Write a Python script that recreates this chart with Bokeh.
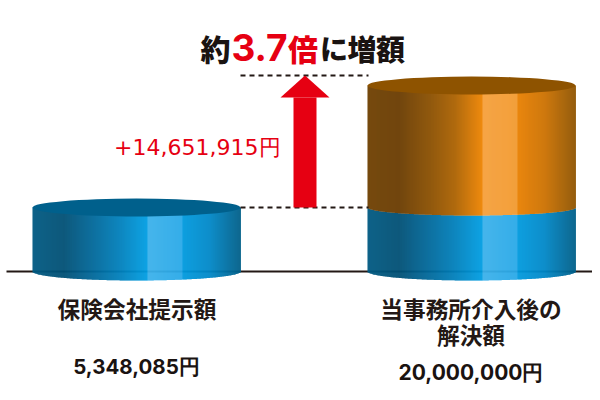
import numpy as np
from bokeh.plotting import figure
from bokeh.core.properties import value
from bokeh.embed import file_html
from bokeh.resources import INLINE

categories = ["保険会社提示額", "当事務所介入後の\n解決額"]
amount_labels = ["5,348,085円", "20,000,000円"]
blue_heights = [64, 64]      # drawn cylinder heights
orange_heights = [0, 122]
gain_label = "+14,651,915円"

DARK = "#231815"
RED = "#e60012"
CX = [136, 471]
RX = 104
RY = 9
STOPS = [0, .15, .30, .42, .553, .553, .72, .72, .85, 1]
BLUE = ["#005a82", "#005075", "#006a9c", "#0080bb", "#009ee3", "#3cb1ea", "#2aa9e8", "#009ade", "#0088c8", "#005f88"]
ORANGE = ["#6f4000", "#6a3c00", "#8a5000", "#ab6200", "#ee8400", "#f5a03c", "#f29a30", "#e98000", "#cc7200", "#8f5500"]


def rgb(h):
    return [int(h[i:i + 2], 16) for i in (1, 3, 5)]


def ramp(stops, colors, u):
    arr = np.array([rgb(c) for c in colors], float)
    out = []
    for t in u:
        idx = [k for k in range(len(stops) - 1) if stops[k] <= t <= stops[k + 1] and stops[k + 1] > stops[k]][0]
        f = (t - stops[idx]) / (stops[idx + 1] - stops[idx])
        c = arr[idx] * (1 - f) + arr[idx + 1] * f
        out.append("#%02x%02x%02x" % tuple(int(round(v)) for v in c))
    return out


p = figure(width=592, height=392, x_range=(0, 592), y_range=(-121, 271),
           output_backend="svg", toolbar_location=None, min_border=0)
p.axis.visible = False
p.grid.visible = False
p.outline_line_color = None
p.background_fill_color = "white"

# baseline
p.line([6, 592], [0, 0], line_color=DARK, line_width=2)

u = (np.arange(RX * 2) + 0.5) / (RX * 2)
arc = np.sqrt(1 - (2 * u - 1) ** 2)
for cx, hb, ho in zip(CX, blue_heights, orange_heights):
    x = cx - RX + np.arange(RX * 2)
    top_arc = arc * 8 if ho else 0 * arc
    p.quad(left=x, right=x + 1.4, bottom=-RY * arc, top=hb - top_arc,
           fill_color=ramp(STOPS, BLUE, u), line_color=None)
    if ho:
        p.quad(left=x, right=x + 1.4, bottom=hb - top_arc, top=hb + ho,
               fill_color=ramp(STOPS, ORANGE, u), line_color=None)
    p.ellipse([cx], [hb + ho], width=RX * 2, height=RY * 2,
              fill_color="#8e5300" if ho else "#00608c", line_color=None)

# dashed guides
total_left = blue_heights[0]
total_right = blue_heights[1] + orange_heights[1]
p.line([240, 368], [total_left, total_left], line_color=DARK, line_width=2, line_dash="5 4")
p.line([240, 368], [total_right + 10, total_right + 10], line_color=DARK, line_width=2, line_dash="5 4")

# arrow
AX = 304.5
tip = total_right + 10
head = total_right - 12
p.quad(left=[AX - 11.5], right=[AX + 11.5], bottom=[total_left], top=[head], fill_color=RED, line_color=None)
p.patch([AX - 24.5, AX, AX + 24.5], [head, tip, head], fill_color=RED, line_color=None)


def label(x, y, s, size, color=DARK, font="Noto Sans CJK JP", style="bold", align="center"):
    p.text([x], [271 - y], text=[s], text_font=value(font), text_font_size=size, text_font_style=style,
           text_color=color, text_align=align, text_baseline="middle")


# headline
HEAVY = "Noto Sans CJK JP Black, Noto Sans CJK JP"
label(215, 47, "約", "30px", "#1a1311", HEAVY)
label(231, 47, "3.7", "37px", RED, "Inter", "bold", "left")
label(302.5, 47, "倍", "30px", RED, HEAVY)
label(333.5, 47, "に", "28px", "#1a1311", HEAVY)
label(361.5, 47, "増", "29px", "#1a1311", HEAVY)
label(390, 47, "額", "29px", "#1a1311", HEAVY)

# gain
label(280, 147, gain_label, "22px", RED, "DejaVu Sans", "normal", "right")

# categories and amounts
label(136.5, 308, categories[0], "22.7px")
lines = categories[1].split("\n")
label(470.5, 308, lines[0], "22.7px")
label(470.5, 333.5, lines[1], "22.7px")
label(136, 366, amount_labels[0], "20.5px", "#1a1311", "Inter", "bold")
label(470.5, 372, amount_labels[1], "21px", "#1a1311", "Inter", "bold")

open("out.html", "w").write(file_html(p, INLINE))
